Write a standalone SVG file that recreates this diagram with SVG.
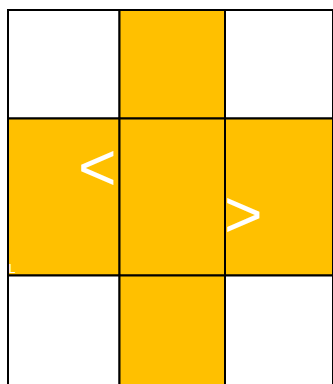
<svg xmlns="http://www.w3.org/2000/svg" width="333" height="384" viewBox="0 0 333 384">
<style>
.c{stroke:#000;stroke-width:2}
.w{fill:#fff}
.y{fill:#FFC000}
.t{fill:#fff;font-family:"Liberation Sans",Arial,sans-serif}
</style>
<rect width="333" height="384" fill="#fff"/>
<g id="r0c0"><rect class="c w" x="8" y="10" width="111.5" height="108.5"/></g>
<g id="r0c1"><rect class="c y" x="119.5" y="10" width="105.5" height="108.5"/></g>
<g id="r0c2"><rect class="c w" x="225" y="10" width="108" height="108.5"/></g>
<g id="r1c0"><rect class="c y" x="8" y="118.5" width="111.5" height="157"/><text class="t" x="8.5" y="273" font-size="12.5">L</text></g>
<g id="r1c1"><rect class="c y" x="119.5" y="118.5" width="105.5" height="157"/></g>
<g id="r1c2"><rect class="c y" x="225" y="118.5" width="108" height="157"/></g>
<g id="r2c0"><rect class="c w" x="8" y="275.5" width="111.5" height="110"/></g>
<g id="r2c1"><rect class="c y" x="119.5" y="275.5" width="105.5" height="110"/></g>
<g id="r2c2"><rect class="c w" x="225" y="275.5" width="108" height="110"/></g>
<g id="labels">
<text class="t" x="78" y="190" font-size="66">&lt;</text>
<text class="t" x="224" y="237" font-size="66">&gt;</text>
</g>
</svg>
